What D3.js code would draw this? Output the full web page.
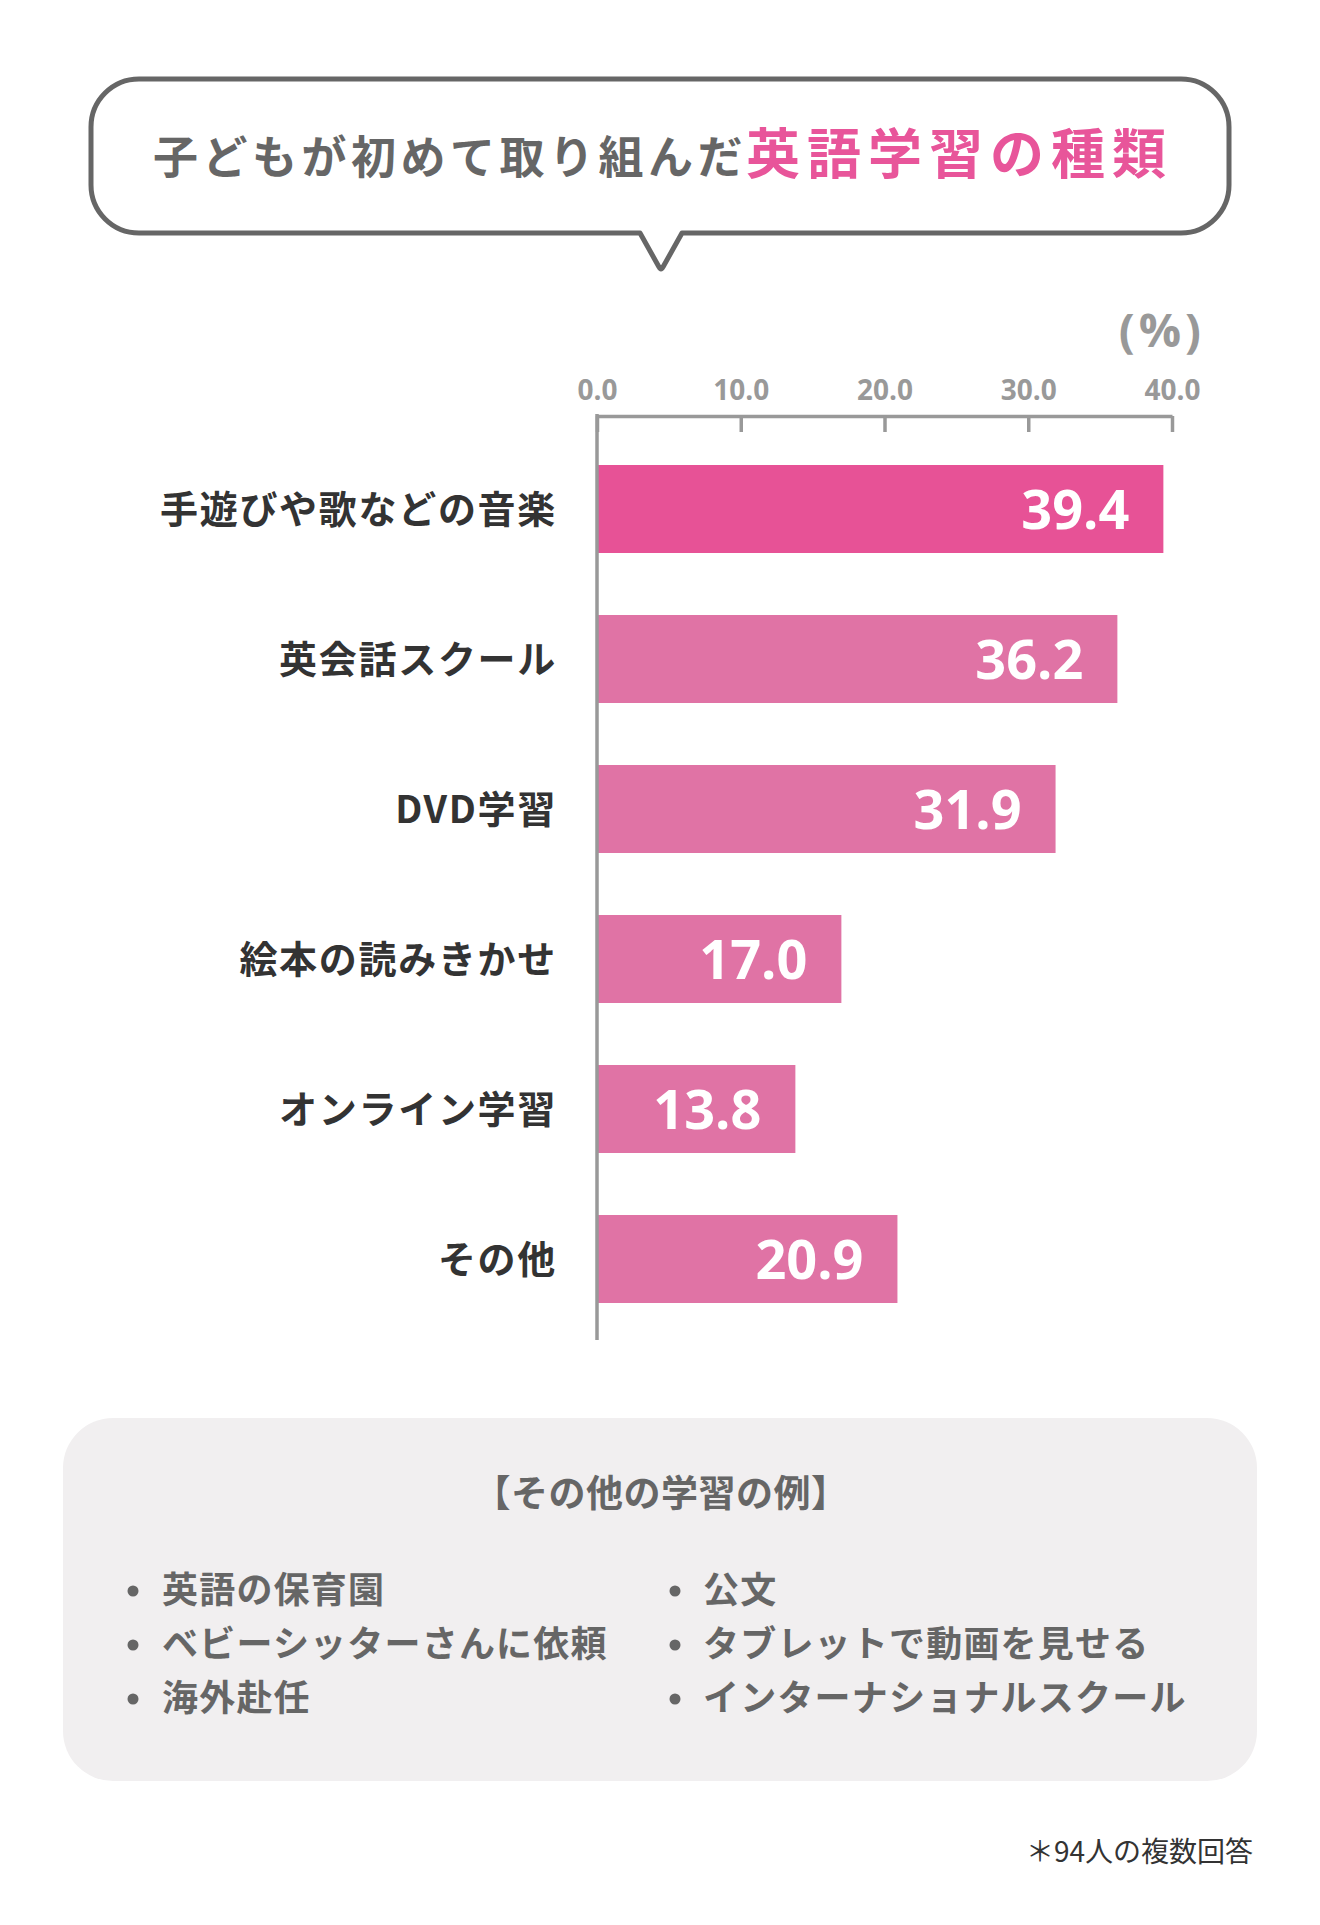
<!DOCTYPE html>
<html><head><meta charset="utf-8">
<script src="https://cdn.jsdelivr.net/npm/d3@7/dist/d3.min.js"></script>
<style>
html,body{margin:0;padding:0;background:#fff;}
svg{display:block;}
</style></head>
<body>
<svg id="c" width="1320" height="1925"></svg>
<script>
const categories = ["手遊びや歌などの音楽","英会話スクール","DVD学習","絵本の読みきかせ","オンライン学習","その他"];
const values = [39.4, 36.2, 31.9, 17.0, 13.8, 20.9];
const tickValues = [0, 10, 20, 30, 40];
const titleGray = "子どもが初めて取り組んだ";
const titlePink = "英語学習の種類";
const unitLabel = "(%)";
const boxTitle = "【その他の学習の例】";
const examplesLeft = ["英語の保育園","ベビーシッターさんに依頼","海外赴任"];
const examplesRight = ["公文","タブレットで動画を見せる","インターナショナルスクール"];
const footnote = "＊94人の複数回答";

const JP = "'Noto Sans CJK JP','Noto Sans',sans-serif";
const NUM = "'Open Sans','Noto Sans',sans-serif";
const svg = d3.select("#c");

// Speech bubble
{
  const x0=91,y0=79,x1=1229,y1=233,r=48, tx=661, tw=21, th=36;
  const p = d3.path();
  p.moveTo(x0+r,y0);
  p.lineTo(x1-r,y0); p.arcTo(x1,y0,x1,y0+r,r);
  p.lineTo(x1,y1-r); p.arcTo(x1,y1,x1-r,y1,r);
  p.lineTo(tx+tw,y1); p.lineTo(tx+2,y1+th-2); p.quadraticCurveTo(tx,y1+th+2,tx-2,y1+th-2); p.lineTo(tx-tw,y1);
  p.lineTo(x0+r,y1); p.arcTo(x0,y1,x0,y1-r,r);
  p.lineTo(x0,y0+r); p.arcTo(x0,y0,x0+r,y0,r);
  p.closePath();
  svg.append("path").attr("d",p.toString()).attr("fill","#fff").attr("stroke","#666").attr("stroke-width",5).attr("stroke-linejoin","round");
  const t = svg.append("text").attr("x",153).attr("y",174).attr("font-family",JP).attr("font-weight",700);
  t.append("tspan").text(titleGray).attr("fill","#666").attr("font-size",45).attr("letter-spacing",4.5);
  t.append("tspan").text(titlePink).attr("fill","#e8559a").attr("font-size",54).attr("letter-spacing",7).attr("dx",-1);
}

// Chart
const x = d3.scaleLinear().domain([0,40]).range([597,1172]);

const barColors = values.map((v,i)=> i===0 ? "#e75296" : "#e073a5");

// axis
const axisG = svg.append("g").attr("transform","translate(0,416)");
axisG.call(d3.axisTop(x).tickValues(tickValues).tickSize(-16).tickSizeOuter(0).tickFormat(d3.format(".1f")));
axisG.select(".domain").attr("stroke","#999").attr("stroke-width",3.5);
axisG.selectAll(".tick line").attr("stroke","#999").attr("stroke-width",3.5);
axisG.selectAll(".tick text").attr("fill","#999").attr("font-family",NUM).attr("font-weight",700).attr("font-size",28).attr("y",-16).attr("dy",0);
svg.append("text").attr("x",1205).attr("y",347).attr("text-anchor","end").attr("fill","#999")
  .attr("font-family",NUM).attr("font-weight",700).attr("font-size",47).attr("letter-spacing",4).text(unitLabel);

// bars
const yb = d3.scaleBand().domain(categories).range([465-31, 465-31+6*150]).paddingInner(62/150).paddingOuter(31/150);
svg.append("g").selectAll("rect").data(values).join("rect")
  .attr("x",x(0)).attr("y",(d,i)=>yb(categories[i])).attr("width",d=>x(d)-x(0)).attr("height",yb.bandwidth())
  .attr("fill",(d,i)=>barColors[i]);
svg.append("g").selectAll("text").data(values).join("text")
  .attr("x",d=>x(d)-34).attr("y",(d,i)=>yb(categories[i])+yb.bandwidth()/2+20)
  .attr("text-anchor","end").attr("fill","#fff").attr("font-family",NUM).attr("font-weight",700).attr("font-size",54)
  .text(d=>d.toFixed(1));
svg.append("g").selectAll("text").data(categories).join("text")
  .attr("x",557).attr("y",d=>yb(d)+yb.bandwidth()/2+14)
  .attr("text-anchor","end").attr("fill","#333").attr("font-family",JP).attr("font-weight",700).attr("font-size",38).attr("letter-spacing",1.7)
  .text(d=>d);
// vertical axis line
svg.append("line").attr("x1",x(0)).attr("x2",x(0)).attr("y1",414).attr("y2",1340).attr("stroke","#999").attr("stroke-width",3.5);

// box
svg.append("rect").attr("x",63).attr("y",1418).attr("width",1194).attr("height",363).attr("rx",50).attr("fill","#f1eff0");
svg.append("text").attr("x",661).attr("y",1507).attr("text-anchor","middle").attr("fill","#666").attr("font-family",JP).attr("font-weight",700).attr("font-size",37).attr("letter-spacing",0.5).text(boxTitle);
const rowY = [1603,1657,1711];
function col(items, bx, tx){
  const g = svg.append("g");
  g.selectAll("circle").data(items).join("circle").attr("cx",bx).attr("cy",(d,i)=>rowY[i]-12).attr("r",5.5).attr("fill","#666");
  g.selectAll("text").data(items).join("text").attr("x",tx).attr("y",(d,i)=>rowY[i]).attr("fill","#666").attr("font-family",JP).attr("font-weight",700).attr("font-size",36).attr("letter-spacing",1.2).text(d=>d);
}
col(examplesLeft,133,162);
col(examplesRight,675,703);

svg.append("text").attr("x",1253).attr("y",1862).attr("text-anchor","end").attr("fill","#333").attr("font-family",JP).attr("font-size",28).text(footnote);
</script>
</body></html>
